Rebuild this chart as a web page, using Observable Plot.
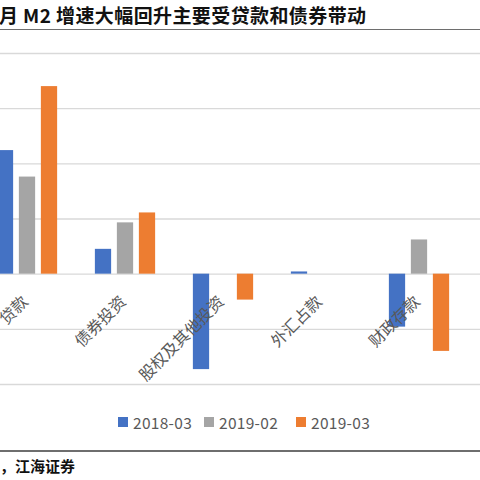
<!DOCTYPE html>
<html>
<head>
<meta charset="utf-8">
<script src="https://cdn.jsdelivr.net/npm/d3@7"></script>
<script src="https://cdn.jsdelivr.net/npm/@observablehq/plot@0.6"></script>
<style>
  html, body { margin: 0; padding: 0; background: #fff; }
  #wrap { position: relative; width: 480px; height: 480px; overflow: hidden; background: #fff; font-family: "Noto Sans CJK SC", "Noto Sans", sans-serif; }
  #title { position: absolute; left: -1px; top: 3px; font-size: 19px; font-weight: bold; color: #111; white-space: nowrap; letter-spacing: 0.4px; line-height: 24px; }
  .rule { position: absolute; left: 0; width: 480px; height: 1.5px; background: #6e6e6e; }
  #chart { position: absolute; left: 0; top: 31px; }
  #legend { position: absolute; top: 413px; left: 0; width: 480px; height: 18px; font-size: 15.5px; letter-spacing: 0.3px; color: #595959; }
  .item { position: absolute; top: 0; display: flex; align-items: center; height: 18px; }
  .sw { width: 10px; height: 10px; margin-right: 5px; }
  #source { position: absolute; left: 0; top: 456px; font-size: 15px; font-weight: bold; color: #111; white-space: nowrap; line-height: 20px; }
</style>
</head>
<body>
<div id="wrap">
  <div id="title">月 M2 增速大幅回升主要受贷款和债券带动</div>
  <div class="rule" style="top:28.5px"></div>
  <div id="chart"></div>
  <div id="legend"></div>
  <div class="rule" style="top:450px"></div>
  <div id="source">，江海证券</div>
</div>
<script>
// Categories and series (亿元)
const categories = ["贷款", "债券投资", "股权及其他投资", "外汇占款", "财政存款"];
const s2018_03 = [11200, 2250, -8650, 200, -4800];
const s2019_02 = [8800, 4650, 0, 0, 3100];
const s2019_03 = [17000, 5550, -2350, 0, -7000];
const seriesNames = ["2018-03", "2019-02", "2019-03"];
const seriesColors = ["#4472C4", "#A5A5A5", "#ED7D31"];
const yTicks = [-10000, -5000, 0, 5000, 10000, 15000, 20000];

const rows = categories.map((c, i) => ({cat: c, a: s2018_03[i], b: s2019_02[i], c: s2019_03[i]}));

const barW = 16.5;
const step = 98.24;
const inset = (step - barW) / 2;
const off = 22;

const chart = Plot.plot({
  width: 480,
  height: 369,
  marginTop: 22,
  marginBottom: 16,
  marginLeft: 0,
  marginRight: 0,
  x: {type: "band", domain: categories, range: [-22.1, -22.1 + step * 5], padding: 0, axis: null},
  y: {domain: [-10000, 20000], axis: null},
  marks: [
    Plot.ruleY(yTicks, {stroke: "#d9d9d9", strokeWidth: 1.3}),
    Plot.barY(rows, {x: "cat", y: "a", fill: seriesColors[0], insetLeft: inset, insetRight: inset, dx: -off}),
    Plot.barY(rows, {x: "cat", y: "b", fill: seriesColors[1], insetLeft: inset, insetRight: inset}),
    Plot.barY(rows, {x: "cat", y: "c", fill: seriesColors[2], insetLeft: inset, insetRight: inset, dx: off}),
    Plot.text(categories, {
      x: d => d, y: () => 0, text: d => d,
      rotate: -45, textAnchor: "end", lineAnchor: "middle",
      dx: -2, dy: 25,
      fontSize: 16, fill: "#595959",
      fontFamily: "Noto Sans CJK SC"
    })
  ]
});
document.getElementById("chart").appendChild(chart);

// Legend
const legend = document.getElementById("legend");
const lefts = [118, 204, 296];
seriesNames.forEach((n, i) => {
  const it = document.createElement("div");
  it.className = "item";
  it.style.left = lefts[i] + "px";
  const sw = document.createElement("div");
  sw.className = "sw";
  sw.style.background = seriesColors[i];
  const t = document.createElement("span");
  t.textContent = n;
  it.appendChild(sw);
  it.appendChild(t);
  legend.appendChild(it);
});
</script>
</body>
</html>
